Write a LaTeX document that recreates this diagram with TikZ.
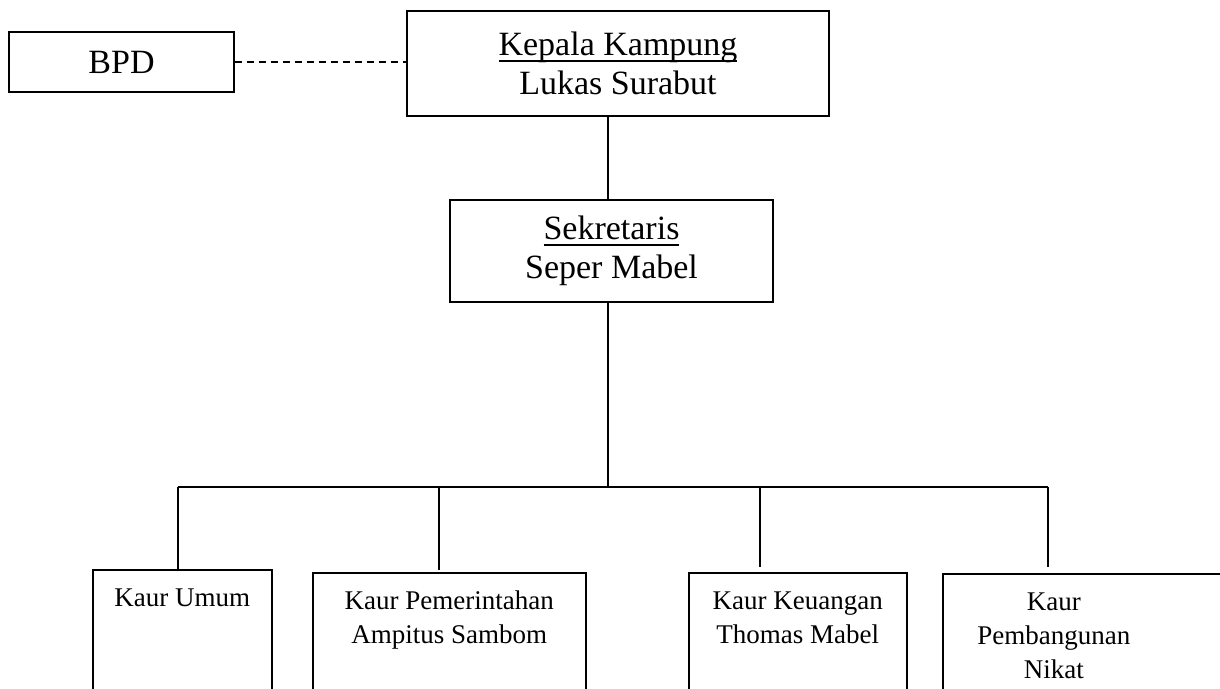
\documentclass[tikz,border=0pt]{standalone}
\usepackage{fontspec}
\setmainfont{Liberation Serif}
\usepackage{tikz}
\usetikzlibrary{positioning, calc}

% box text for the Kaur boxes (text sits at the top)
\newcommand{\kaurtext}[2]{\parbox[t][150pt][t]{#1}{\centering\rule{0pt}{37pt}#2}}
% underline that runs through the descenders
\newcommand{\headline}[1]{\setbox0\hbox{#1}\rlap{\rule[-6pt]{\wd0}{1.3pt}}\box0}

\begin{document}
\begin{tikzpicture}[x=1pt, y=-1pt,
    topbox/.style={draw, line width=1.6pt, align=center, inner sep=0pt,
        font=\fontsize{34}{39}\selectfont},
    kaurbox/.style={draw, line width=1.6pt, anchor=north west, inner sep=0pt,
        font=\fontsize{27}{34}\selectfont},
    link/.style={line width=1.3pt}]
\useasboundingbox (0,0) rectangle (1220,688);
\clip (0,0) rectangle (1220,688);

% Kepala Kampung and BPD
\node[topbox, minimum width=422, minimum height=105] (kepala) at (618,63.5)
    {\headline{Kepala Kampung}\\Lukas Surabut};
\node[topbox, minimum width=225, minimum height=60] (bpd) at (121.5,62) {BPD};
\draw[link, dash pattern=on 7pt off 5pt] (bpd.east) -- (bpd.east -| kepala.west);

% Sekretaris
\node[topbox, minimum width=323, minimum height=102] (sek) at (611.5,251)
    {\headline{Sekretaris}\\Seper Mabel};

% Kaur boxes
\node[kaurbox] (umum) at (92,569) {\kaurtext{179pt}{Kaur Umum}};
\node[kaurbox] (pem) at (312,572) {\kaurtext{273pt}{Kaur Pemerintahan\\Ampitus Sambom}};
\node[kaurbox] (keu) at (688,572) {\kaurtext{218pt}{Kaur Keuangan\\Thomas Mabel}};
\node[kaurbox] (bang) at (942,573)
    {\parbox[t][150pt][t]{300pt}{\raggedright\kaurtext{222pt}{Kaur\\Pembangunan\\Nikat}}};

% Lines
\coordinate (trunk) at (608,487);
\coordinate (d1) at (178,487);
\coordinate (d2) at (439,487);
\coordinate (d3) at (760,487);
\coordinate (d4) at (1048,487);
\draw[link] (kepala.south -| trunk) -- (sek.north -| trunk);
\draw[link] (sek.south -| trunk) -- (trunk);
\draw[link] (d1) -- (d4);
\foreach \d/\b/\g in {d1/umum/0, d2/pem/2, d3/keu/5, d4/bang/6} {
    \draw[link] (\d) -- ([yshift=\g pt]\d |- \b.north);
}
\end{tikzpicture}
\end{document}
